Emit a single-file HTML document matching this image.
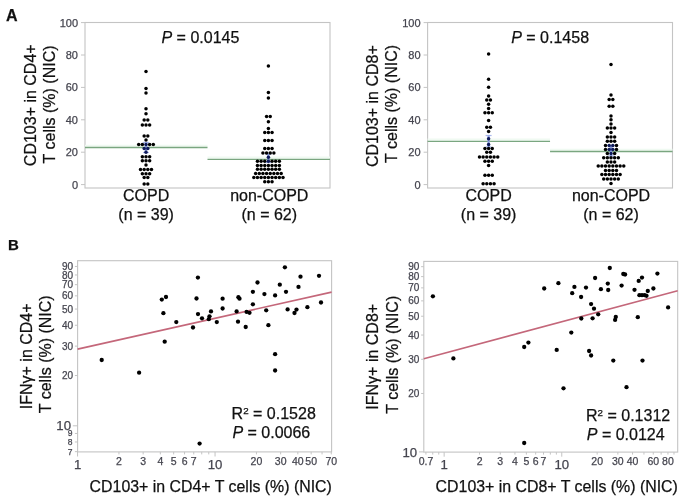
<!DOCTYPE html>
<html><head><meta charset="utf-8"><style>
html,body{margin:0;padding:0;background:#fff;}
svg{display:block;font-family:"Liberation Sans", sans-serif;will-change:transform;}
</style></head><body>
<svg width="685" height="503" viewBox="0 0 685 503">
<rect width="685" height="503" fill="#fff"/>
<text x="6.00" y="20.60" font-size="16" text-anchor="start" fill="#111" stroke="#111" stroke-width="0.25" font-weight="bold">A</text>
<text x="8.00" y="250.40" font-size="15" text-anchor="start" fill="#111" stroke="#111" stroke-width="0.25" font-weight="bold">B</text>
<rect x="85.00" y="22.50" width="245.00" height="165.50" fill="none" stroke="#c4c4c4" stroke-width="1.1"/>
<line x1="81.00" y1="184.60" x2="85.00" y2="184.60" stroke="#c4c4c4" stroke-width="1"/>
<text x="78.00" y="188.50" font-size="11" text-anchor="end" fill="#45454f" stroke="#45454f" stroke-width="0.25" >0</text>
<line x1="81.00" y1="152.20" x2="85.00" y2="152.20" stroke="#c4c4c4" stroke-width="1"/>
<text x="78.00" y="156.10" font-size="11" text-anchor="end" fill="#45454f" stroke="#45454f" stroke-width="0.25" >20</text>
<line x1="81.00" y1="119.80" x2="85.00" y2="119.80" stroke="#c4c4c4" stroke-width="1"/>
<text x="78.00" y="123.70" font-size="11" text-anchor="end" fill="#45454f" stroke="#45454f" stroke-width="0.25" >40</text>
<line x1="81.00" y1="87.40" x2="85.00" y2="87.40" stroke="#c4c4c4" stroke-width="1"/>
<text x="78.00" y="91.30" font-size="11" text-anchor="end" fill="#45454f" stroke="#45454f" stroke-width="0.25" >60</text>
<line x1="81.00" y1="55.00" x2="85.00" y2="55.00" stroke="#c4c4c4" stroke-width="1"/>
<text x="78.00" y="58.90" font-size="11" text-anchor="end" fill="#45454f" stroke="#45454f" stroke-width="0.25" >80</text>
<line x1="81.00" y1="22.60" x2="85.00" y2="22.60" stroke="#c4c4c4" stroke-width="1"/>
<text x="78.00" y="26.50" font-size="11" text-anchor="end" fill="#45454f" stroke="#45454f" stroke-width="0.25" >100</text>
<text transform="translate(35.5,105.25) rotate(-90)" font-size="16" text-anchor="middle" fill="#111" stroke="#111" stroke-width="0.25">CD103+ in CD4+</text>
<text transform="translate(54.6,104.45) rotate(-90)" font-size="16" text-anchor="middle" fill="#111" stroke="#111" stroke-width="0.25">T cells (%) (NIC)</text>
<line x1="85.00" y1="145.70" x2="207.50" y2="145.70" stroke="#f0faf2" stroke-width="2"/>
<line x1="207.50" y1="157.60" x2="330.00" y2="157.60" stroke="#f0faf2" stroke-width="2"/>
<line x1="85.00" y1="147.50" x2="207.50" y2="147.50" stroke="#7aa680" stroke-width="1.3"/>
<line x1="207.50" y1="159.40" x2="330.00" y2="159.40" stroke="#7aa680" stroke-width="1.3"/>
<line x1="143.00" y1="142.50" x2="149.00" y2="142.50" stroke="#a9b8ec" stroke-width="1.2"/>
<line x1="143.00" y1="152.50" x2="149.00" y2="152.50" stroke="#a9b8ec" stroke-width="1.2"/>
<line x1="146.00" y1="142.50" x2="146.00" y2="152.50" stroke="#8d9fe2" stroke-width="2.2"/>
<circle cx="146.00" cy="71.40" r="1.75" fill="#000"/>
<circle cx="146.00" cy="88.60" r="1.75" fill="#000"/>
<circle cx="146.00" cy="92.90" r="1.75" fill="#000"/>
<circle cx="146.00" cy="108.80" r="1.75" fill="#000"/>
<circle cx="146.00" cy="113.70" r="1.75" fill="#000"/>
<circle cx="144.18" cy="119.90" r="1.75" fill="#000"/>
<circle cx="147.82" cy="119.90" r="1.75" fill="#000"/>
<circle cx="142.35" cy="125.10" r="1.75" fill="#000"/>
<circle cx="146.00" cy="125.10" r="1.75" fill="#000"/>
<circle cx="149.65" cy="125.10" r="1.75" fill="#000"/>
<circle cx="144.18" cy="136.00" r="1.75" fill="#000"/>
<circle cx="147.82" cy="136.00" r="1.75" fill="#000"/>
<circle cx="146.00" cy="140.10" r="1.75" fill="#000"/>
<circle cx="138.70" cy="144.50" r="1.75" fill="#000"/>
<circle cx="142.35" cy="144.50" r="1.75" fill="#000"/>
<circle cx="146.00" cy="144.50" r="1.75" fill="#0f1a5a"/>
<circle cx="149.65" cy="144.50" r="1.75" fill="#000"/>
<circle cx="153.30" cy="144.50" r="1.75" fill="#000"/>
<circle cx="144.18" cy="148.60" r="1.75" fill="#0f1a5a"/>
<circle cx="147.82" cy="148.60" r="1.75" fill="#0f1a5a"/>
<circle cx="146.00" cy="152.30" r="1.75" fill="#0f1a5a"/>
<circle cx="142.35" cy="156.70" r="1.75" fill="#000"/>
<circle cx="146.00" cy="156.70" r="1.75" fill="#000"/>
<circle cx="149.65" cy="156.70" r="1.75" fill="#000"/>
<circle cx="142.35" cy="160.70" r="1.75" fill="#000"/>
<circle cx="146.00" cy="160.70" r="1.75" fill="#000"/>
<circle cx="149.65" cy="160.70" r="1.75" fill="#000"/>
<circle cx="146.00" cy="165.00" r="1.75" fill="#000"/>
<circle cx="140.53" cy="169.50" r="1.75" fill="#000"/>
<circle cx="144.18" cy="169.50" r="1.75" fill="#000"/>
<circle cx="147.82" cy="169.50" r="1.75" fill="#000"/>
<circle cx="151.47" cy="169.50" r="1.75" fill="#000"/>
<circle cx="142.35" cy="173.80" r="1.75" fill="#000"/>
<circle cx="146.00" cy="173.80" r="1.75" fill="#000"/>
<circle cx="149.65" cy="173.80" r="1.75" fill="#000"/>
<circle cx="144.18" cy="177.60" r="1.75" fill="#000"/>
<circle cx="147.82" cy="177.60" r="1.75" fill="#000"/>
<circle cx="144.18" cy="184.10" r="1.75" fill="#000"/>
<circle cx="147.82" cy="184.10" r="1.75" fill="#000"/>
<line x1="265.40" y1="154.00" x2="271.40" y2="154.00" stroke="#a9b8ec" stroke-width="1.2"/>
<line x1="265.40" y1="162.50" x2="271.40" y2="162.50" stroke="#a9b8ec" stroke-width="1.2"/>
<line x1="268.40" y1="154.00" x2="268.40" y2="162.50" stroke="#8d9fe2" stroke-width="2.2"/>
<circle cx="268.40" cy="65.90" r="1.75" fill="#000"/>
<circle cx="268.40" cy="92.60" r="1.75" fill="#000"/>
<circle cx="268.40" cy="97.90" r="1.75" fill="#000"/>
<circle cx="266.57" cy="116.50" r="1.75" fill="#000"/>
<circle cx="270.22" cy="116.50" r="1.75" fill="#000"/>
<circle cx="268.40" cy="121.80" r="1.75" fill="#000"/>
<circle cx="268.40" cy="128.40" r="1.75" fill="#000"/>
<circle cx="264.75" cy="132.60" r="1.75" fill="#000"/>
<circle cx="268.40" cy="132.60" r="1.75" fill="#000"/>
<circle cx="272.05" cy="132.60" r="1.75" fill="#000"/>
<circle cx="264.75" cy="140.40" r="1.75" fill="#000"/>
<circle cx="268.40" cy="140.40" r="1.75" fill="#000"/>
<circle cx="272.05" cy="140.40" r="1.75" fill="#000"/>
<circle cx="264.75" cy="148.60" r="1.75" fill="#000"/>
<circle cx="268.40" cy="148.60" r="1.75" fill="#000"/>
<circle cx="272.05" cy="148.60" r="1.75" fill="#000"/>
<circle cx="262.92" cy="152.90" r="1.75" fill="#000"/>
<circle cx="266.57" cy="152.90" r="1.75" fill="#000"/>
<circle cx="270.22" cy="152.90" r="1.75" fill="#000"/>
<circle cx="273.88" cy="152.90" r="1.75" fill="#000"/>
<circle cx="268.40" cy="157.20" r="1.75" fill="#0f1a5a"/>
<circle cx="257.45" cy="161.30" r="1.75" fill="#000"/>
<circle cx="261.10" cy="161.30" r="1.75" fill="#000"/>
<circle cx="264.75" cy="161.30" r="1.75" fill="#000"/>
<circle cx="268.40" cy="161.30" r="1.75" fill="#0f1a5a"/>
<circle cx="272.05" cy="161.30" r="1.75" fill="#000"/>
<circle cx="275.70" cy="161.30" r="1.75" fill="#000"/>
<circle cx="279.35" cy="161.30" r="1.75" fill="#000"/>
<circle cx="257.45" cy="165.40" r="1.75" fill="#000"/>
<circle cx="261.10" cy="165.40" r="1.75" fill="#000"/>
<circle cx="264.75" cy="165.40" r="1.75" fill="#000"/>
<circle cx="268.40" cy="165.40" r="1.75" fill="#000"/>
<circle cx="272.05" cy="165.40" r="1.75" fill="#000"/>
<circle cx="275.70" cy="165.40" r="1.75" fill="#000"/>
<circle cx="279.35" cy="165.40" r="1.75" fill="#000"/>
<circle cx="257.45" cy="169.30" r="1.75" fill="#000"/>
<circle cx="261.10" cy="169.30" r="1.75" fill="#000"/>
<circle cx="264.75" cy="169.30" r="1.75" fill="#000"/>
<circle cx="268.40" cy="169.30" r="1.75" fill="#000"/>
<circle cx="272.05" cy="169.30" r="1.75" fill="#000"/>
<circle cx="275.70" cy="169.30" r="1.75" fill="#000"/>
<circle cx="279.35" cy="169.30" r="1.75" fill="#000"/>
<circle cx="255.62" cy="173.40" r="1.75" fill="#000"/>
<circle cx="259.27" cy="173.40" r="1.75" fill="#000"/>
<circle cx="262.92" cy="173.40" r="1.75" fill="#000"/>
<circle cx="266.57" cy="173.40" r="1.75" fill="#000"/>
<circle cx="270.22" cy="173.40" r="1.75" fill="#000"/>
<circle cx="273.88" cy="173.40" r="1.75" fill="#000"/>
<circle cx="277.52" cy="173.40" r="1.75" fill="#000"/>
<circle cx="281.17" cy="173.40" r="1.75" fill="#000"/>
<circle cx="253.80" cy="177.60" r="1.75" fill="#000"/>
<circle cx="257.45" cy="177.60" r="1.75" fill="#000"/>
<circle cx="261.10" cy="177.60" r="1.75" fill="#000"/>
<circle cx="264.75" cy="177.60" r="1.75" fill="#000"/>
<circle cx="268.40" cy="177.60" r="1.75" fill="#000"/>
<circle cx="272.05" cy="177.60" r="1.75" fill="#000"/>
<circle cx="275.70" cy="177.60" r="1.75" fill="#000"/>
<circle cx="279.35" cy="177.60" r="1.75" fill="#000"/>
<circle cx="283.00" cy="177.60" r="1.75" fill="#000"/>
<circle cx="264.75" cy="181.80" r="1.75" fill="#000"/>
<circle cx="268.40" cy="181.80" r="1.75" fill="#000"/>
<circle cx="272.05" cy="181.80" r="1.75" fill="#000"/>
<text x="161.50" y="43.00" font-size="16" text-anchor="start" fill="#111" stroke="#111" stroke-width="0.25" ><tspan font-style="italic">P</tspan> = 0.0145</text>
<text x="146.10" y="200.60" font-size="16" text-anchor="middle" fill="#111" stroke="#111" stroke-width="0.25" >COPD</text>
<text x="146.10" y="220.20" font-size="16" text-anchor="middle" fill="#111" stroke="#111" stroke-width="0.25" >(n = 39)</text>
<text x="269.30" y="200.60" font-size="16" text-anchor="middle" fill="#111" stroke="#111" stroke-width="0.25" >non-COPD</text>
<text x="269.30" y="220.20" font-size="16" text-anchor="middle" fill="#111" stroke="#111" stroke-width="0.25" >(n = 62)</text>
<rect x="427.60" y="22.50" width="244.90" height="165.50" fill="none" stroke="#c4c4c4" stroke-width="1.1"/>
<line x1="423.60" y1="184.60" x2="427.60" y2="184.60" stroke="#c4c4c4" stroke-width="1"/>
<text x="420.60" y="188.50" font-size="11" text-anchor="end" fill="#45454f" stroke="#45454f" stroke-width="0.25" >0</text>
<line x1="423.60" y1="152.20" x2="427.60" y2="152.20" stroke="#c4c4c4" stroke-width="1"/>
<text x="420.60" y="156.10" font-size="11" text-anchor="end" fill="#45454f" stroke="#45454f" stroke-width="0.25" >20</text>
<line x1="423.60" y1="119.80" x2="427.60" y2="119.80" stroke="#c4c4c4" stroke-width="1"/>
<text x="420.60" y="123.70" font-size="11" text-anchor="end" fill="#45454f" stroke="#45454f" stroke-width="0.25" >40</text>
<line x1="423.60" y1="87.40" x2="427.60" y2="87.40" stroke="#c4c4c4" stroke-width="1"/>
<text x="420.60" y="91.30" font-size="11" text-anchor="end" fill="#45454f" stroke="#45454f" stroke-width="0.25" >60</text>
<line x1="423.60" y1="55.00" x2="427.60" y2="55.00" stroke="#c4c4c4" stroke-width="1"/>
<text x="420.60" y="58.90" font-size="11" text-anchor="end" fill="#45454f" stroke="#45454f" stroke-width="0.25" >80</text>
<line x1="423.60" y1="22.60" x2="427.60" y2="22.60" stroke="#c4c4c4" stroke-width="1"/>
<text x="420.60" y="26.50" font-size="11" text-anchor="end" fill="#45454f" stroke="#45454f" stroke-width="0.25" >100</text>
<text transform="translate(377.8,106.15) rotate(-90)" font-size="16" text-anchor="middle" fill="#111" stroke="#111" stroke-width="0.25">CD103+ in CD8+</text>
<text transform="translate(397.2,103.95) rotate(-90)" font-size="16" text-anchor="middle" fill="#111" stroke="#111" stroke-width="0.25">T cells (%) (NIC)</text>
<line x1="427.60" y1="139.60" x2="550.05" y2="139.60" stroke="#f0faf2" stroke-width="2"/>
<line x1="550.05" y1="149.70" x2="672.50" y2="149.70" stroke="#f0faf2" stroke-width="2"/>
<line x1="427.60" y1="141.40" x2="550.05" y2="141.40" stroke="#7aa680" stroke-width="1.3"/>
<line x1="550.05" y1="151.50" x2="672.50" y2="151.50" stroke="#7aa680" stroke-width="1.3"/>
<line x1="485.60" y1="135.50" x2="491.60" y2="135.50" stroke="#a9b8ec" stroke-width="1.2"/>
<line x1="485.60" y1="147.00" x2="491.60" y2="147.00" stroke="#a9b8ec" stroke-width="1.2"/>
<line x1="488.60" y1="135.50" x2="488.60" y2="147.00" stroke="#8d9fe2" stroke-width="2.2"/>
<circle cx="488.60" cy="54.10" r="1.75" fill="#000"/>
<circle cx="488.60" cy="79.20" r="1.75" fill="#000"/>
<circle cx="488.60" cy="87.20" r="1.75" fill="#000"/>
<circle cx="488.60" cy="96.00" r="1.75" fill="#000"/>
<circle cx="486.78" cy="99.90" r="1.75" fill="#000"/>
<circle cx="490.43" cy="99.90" r="1.75" fill="#000"/>
<circle cx="488.60" cy="104.20" r="1.75" fill="#000"/>
<circle cx="488.60" cy="108.40" r="1.75" fill="#000"/>
<circle cx="484.95" cy="112.70" r="1.75" fill="#000"/>
<circle cx="488.60" cy="112.70" r="1.75" fill="#000"/>
<circle cx="492.25" cy="112.70" r="1.75" fill="#000"/>
<circle cx="488.60" cy="120.60" r="1.75" fill="#000"/>
<circle cx="486.78" cy="127.20" r="1.75" fill="#000"/>
<circle cx="490.43" cy="127.20" r="1.75" fill="#000"/>
<circle cx="488.60" cy="131.40" r="1.75" fill="#000"/>
<circle cx="488.60" cy="138.80" r="1.75" fill="#0f1a5a"/>
<circle cx="488.60" cy="144.50" r="1.75" fill="#0f1a5a"/>
<circle cx="484.95" cy="148.50" r="1.75" fill="#000"/>
<circle cx="488.60" cy="148.50" r="1.75" fill="#000"/>
<circle cx="492.25" cy="148.50" r="1.75" fill="#000"/>
<circle cx="486.78" cy="152.20" r="1.75" fill="#000"/>
<circle cx="490.43" cy="152.20" r="1.75" fill="#000"/>
<circle cx="479.48" cy="157.00" r="1.75" fill="#000"/>
<circle cx="483.12" cy="157.00" r="1.75" fill="#000"/>
<circle cx="486.78" cy="157.00" r="1.75" fill="#000"/>
<circle cx="490.43" cy="157.00" r="1.75" fill="#000"/>
<circle cx="494.08" cy="157.00" r="1.75" fill="#000"/>
<circle cx="497.73" cy="157.00" r="1.75" fill="#000"/>
<circle cx="484.95" cy="161.20" r="1.75" fill="#000"/>
<circle cx="488.60" cy="161.20" r="1.75" fill="#000"/>
<circle cx="492.25" cy="161.20" r="1.75" fill="#000"/>
<circle cx="488.60" cy="165.60" r="1.75" fill="#000"/>
<circle cx="484.95" cy="175.30" r="1.75" fill="#000"/>
<circle cx="488.60" cy="175.30" r="1.75" fill="#000"/>
<circle cx="492.25" cy="175.30" r="1.75" fill="#000"/>
<circle cx="483.12" cy="183.80" r="1.75" fill="#000"/>
<circle cx="486.78" cy="183.80" r="1.75" fill="#000"/>
<circle cx="490.43" cy="183.80" r="1.75" fill="#000"/>
<circle cx="494.08" cy="183.80" r="1.75" fill="#000"/>
<line x1="608.00" y1="146.00" x2="614.00" y2="146.00" stroke="#a9b8ec" stroke-width="1.2"/>
<line x1="608.00" y1="156.00" x2="614.00" y2="156.00" stroke="#a9b8ec" stroke-width="1.2"/>
<line x1="611.00" y1="146.00" x2="611.00" y2="156.00" stroke="#8d9fe2" stroke-width="2.2"/>
<circle cx="611.00" cy="64.50" r="1.75" fill="#000"/>
<circle cx="611.00" cy="95.10" r="1.75" fill="#000"/>
<circle cx="609.17" cy="99.60" r="1.75" fill="#000"/>
<circle cx="612.83" cy="99.60" r="1.75" fill="#000"/>
<circle cx="609.17" cy="106.30" r="1.75" fill="#000"/>
<circle cx="612.83" cy="106.30" r="1.75" fill="#000"/>
<circle cx="611.00" cy="116.00" r="1.75" fill="#000"/>
<circle cx="611.00" cy="119.80" r="1.75" fill="#000"/>
<circle cx="611.00" cy="123.90" r="1.75" fill="#000"/>
<circle cx="607.35" cy="128.10" r="1.75" fill="#000"/>
<circle cx="611.00" cy="128.10" r="1.75" fill="#000"/>
<circle cx="614.65" cy="128.10" r="1.75" fill="#000"/>
<circle cx="611.00" cy="132.50" r="1.75" fill="#000"/>
<circle cx="607.35" cy="137.10" r="1.75" fill="#000"/>
<circle cx="611.00" cy="137.10" r="1.75" fill="#000"/>
<circle cx="614.65" cy="137.10" r="1.75" fill="#000"/>
<circle cx="607.35" cy="141.30" r="1.75" fill="#000"/>
<circle cx="611.00" cy="141.30" r="1.75" fill="#000"/>
<circle cx="614.65" cy="141.30" r="1.75" fill="#000"/>
<circle cx="605.52" cy="145.50" r="1.75" fill="#000"/>
<circle cx="609.17" cy="145.50" r="1.75" fill="#0f1a5a"/>
<circle cx="612.83" cy="145.50" r="1.75" fill="#0f1a5a"/>
<circle cx="616.48" cy="145.50" r="1.75" fill="#000"/>
<circle cx="605.52" cy="149.60" r="1.75" fill="#000"/>
<circle cx="609.17" cy="149.60" r="1.75" fill="#0f1a5a"/>
<circle cx="612.83" cy="149.60" r="1.75" fill="#0f1a5a"/>
<circle cx="616.48" cy="149.60" r="1.75" fill="#000"/>
<circle cx="607.35" cy="153.50" r="1.75" fill="#000"/>
<circle cx="611.00" cy="153.50" r="1.75" fill="#0f1a5a"/>
<circle cx="614.65" cy="153.50" r="1.75" fill="#000"/>
<circle cx="603.70" cy="157.70" r="1.75" fill="#000"/>
<circle cx="607.35" cy="157.70" r="1.75" fill="#000"/>
<circle cx="611.00" cy="157.70" r="1.75" fill="#000"/>
<circle cx="614.65" cy="157.70" r="1.75" fill="#000"/>
<circle cx="618.30" cy="157.70" r="1.75" fill="#000"/>
<circle cx="607.35" cy="161.90" r="1.75" fill="#000"/>
<circle cx="611.00" cy="161.90" r="1.75" fill="#000"/>
<circle cx="614.65" cy="161.90" r="1.75" fill="#000"/>
<circle cx="598.23" cy="166.00" r="1.75" fill="#000"/>
<circle cx="601.88" cy="166.00" r="1.75" fill="#000"/>
<circle cx="605.52" cy="166.00" r="1.75" fill="#000"/>
<circle cx="609.17" cy="166.00" r="1.75" fill="#000"/>
<circle cx="612.83" cy="166.00" r="1.75" fill="#000"/>
<circle cx="616.48" cy="166.00" r="1.75" fill="#000"/>
<circle cx="620.12" cy="166.00" r="1.75" fill="#000"/>
<circle cx="623.77" cy="166.00" r="1.75" fill="#000"/>
<circle cx="605.52" cy="170.40" r="1.75" fill="#000"/>
<circle cx="609.17" cy="170.40" r="1.75" fill="#000"/>
<circle cx="612.83" cy="170.40" r="1.75" fill="#000"/>
<circle cx="616.48" cy="170.40" r="1.75" fill="#000"/>
<circle cx="601.88" cy="174.60" r="1.75" fill="#000"/>
<circle cx="605.52" cy="174.60" r="1.75" fill="#000"/>
<circle cx="609.17" cy="174.60" r="1.75" fill="#000"/>
<circle cx="612.83" cy="174.60" r="1.75" fill="#000"/>
<circle cx="616.48" cy="174.60" r="1.75" fill="#000"/>
<circle cx="620.12" cy="174.60" r="1.75" fill="#000"/>
<circle cx="603.70" cy="179.10" r="1.75" fill="#000"/>
<circle cx="607.35" cy="179.10" r="1.75" fill="#000"/>
<circle cx="611.00" cy="179.10" r="1.75" fill="#000"/>
<circle cx="614.65" cy="179.10" r="1.75" fill="#000"/>
<circle cx="618.30" cy="179.10" r="1.75" fill="#000"/>
<circle cx="611.00" cy="183.60" r="1.75" fill="#000"/>
<text x="511.20" y="43.00" font-size="16" text-anchor="start" fill="#111" stroke="#111" stroke-width="0.25" ><tspan font-style="italic">P</tspan> = 0.1458</text>
<text x="488.60" y="200.60" font-size="16" text-anchor="middle" fill="#111" stroke="#111" stroke-width="0.25" >COPD</text>
<text x="488.60" y="220.20" font-size="16" text-anchor="middle" fill="#111" stroke="#111" stroke-width="0.25" >(n = 39)</text>
<text x="611.00" y="200.60" font-size="16" text-anchor="middle" fill="#111" stroke="#111" stroke-width="0.25" >non-COPD</text>
<text x="611.00" y="220.20" font-size="16" text-anchor="middle" fill="#111" stroke="#111" stroke-width="0.25" >(n = 62)</text>
<rect x="77.60" y="260.70" width="254.00" height="191.20" fill="none" stroke="#c4c4c4" stroke-width="1.1"/>
<line x1="74.90" y1="451.67" x2="77.60" y2="451.67" stroke="#c4c4c4" stroke-width="1"/>
<text x="72.40" y="454.69" font-size="8.5" text-anchor="end" fill="#45454f" stroke="#45454f" stroke-width="0.25" >7</text>
<line x1="74.90" y1="441.98" x2="77.60" y2="441.98" stroke="#c4c4c4" stroke-width="1"/>
<text x="72.40" y="445.00" font-size="8.5" text-anchor="end" fill="#45454f" stroke="#45454f" stroke-width="0.25" >8</text>
<line x1="74.90" y1="433.44" x2="77.60" y2="433.44" stroke="#c4c4c4" stroke-width="1"/>
<text x="72.40" y="436.46" font-size="8.5" text-anchor="end" fill="#45454f" stroke="#45454f" stroke-width="0.25" >9</text>
<line x1="72.80" y1="425.80" x2="77.60" y2="425.80" stroke="#c4c4c4" stroke-width="1"/>
<text x="71.00" y="430.49" font-size="13.2" text-anchor="end" fill="#45454f" stroke="#45454f" stroke-width="0.25" >10</text>
<line x1="74.90" y1="375.53" x2="77.60" y2="375.53" stroke="#c4c4c4" stroke-width="1"/>
<text x="73.20" y="379.08" font-size="10" text-anchor="end" fill="#45454f" stroke="#45454f" stroke-width="0.25" >20</text>
<line x1="74.90" y1="346.12" x2="77.60" y2="346.12" stroke="#c4c4c4" stroke-width="1"/>
<text x="73.20" y="349.67" font-size="10" text-anchor="end" fill="#45454f" stroke="#45454f" stroke-width="0.25" >30</text>
<line x1="74.90" y1="325.26" x2="77.60" y2="325.26" stroke="#c4c4c4" stroke-width="1"/>
<text x="73.20" y="328.81" font-size="10" text-anchor="end" fill="#45454f" stroke="#45454f" stroke-width="0.25" >40</text>
<line x1="74.90" y1="309.07" x2="77.60" y2="309.07" stroke="#c4c4c4" stroke-width="1"/>
<text x="73.20" y="312.62" font-size="10" text-anchor="end" fill="#45454f" stroke="#45454f" stroke-width="0.25" >50</text>
<line x1="74.90" y1="295.85" x2="77.60" y2="295.85" stroke="#c4c4c4" stroke-width="1"/>
<text x="73.20" y="299.40" font-size="10" text-anchor="end" fill="#45454f" stroke="#45454f" stroke-width="0.25" >60</text>
<line x1="74.90" y1="284.67" x2="77.60" y2="284.67" stroke="#c4c4c4" stroke-width="1"/>
<text x="73.20" y="288.22" font-size="10" text-anchor="end" fill="#45454f" stroke="#45454f" stroke-width="0.25" >70</text>
<line x1="74.90" y1="274.98" x2="77.60" y2="274.98" stroke="#c4c4c4" stroke-width="1"/>
<text x="73.20" y="278.53" font-size="10" text-anchor="end" fill="#45454f" stroke="#45454f" stroke-width="0.25" >80</text>
<line x1="74.90" y1="266.44" x2="77.60" y2="266.44" stroke="#c4c4c4" stroke-width="1"/>
<text x="73.20" y="269.99" font-size="10" text-anchor="end" fill="#45454f" stroke="#45454f" stroke-width="0.25" >90</text>
<line x1="77.55" y1="451.90" x2="77.55" y2="456.50" stroke="#c4c4c4" stroke-width="1"/>
<text x="77.55" y="469.10" font-size="13.2" text-anchor="middle" fill="#45454f" stroke="#45454f" stroke-width="0.25" >1</text>
<line x1="118.94" y1="451.90" x2="118.94" y2="454.40" stroke="#c4c4c4" stroke-width="1"/>
<text x="118.94" y="464.70" font-size="10.5" text-anchor="middle" fill="#45454f" stroke="#45454f" stroke-width="0.25" >2</text>
<line x1="143.15" y1="451.90" x2="143.15" y2="454.40" stroke="#c4c4c4" stroke-width="1"/>
<text x="143.15" y="464.70" font-size="10.5" text-anchor="middle" fill="#45454f" stroke="#45454f" stroke-width="0.25" >3</text>
<line x1="160.33" y1="451.90" x2="160.33" y2="454.40" stroke="#c4c4c4" stroke-width="1"/>
<text x="160.33" y="464.70" font-size="10.5" text-anchor="middle" fill="#45454f" stroke="#45454f" stroke-width="0.25" >4</text>
<line x1="173.66" y1="451.90" x2="173.66" y2="454.40" stroke="#c4c4c4" stroke-width="1"/>
<text x="173.66" y="464.70" font-size="10.5" text-anchor="middle" fill="#45454f" stroke="#45454f" stroke-width="0.25" >5</text>
<line x1="184.55" y1="451.90" x2="184.55" y2="454.40" stroke="#c4c4c4" stroke-width="1"/>
<text x="184.55" y="464.70" font-size="10.5" text-anchor="middle" fill="#45454f" stroke="#45454f" stroke-width="0.25" >6</text>
<line x1="193.75" y1="451.90" x2="193.75" y2="454.40" stroke="#c4c4c4" stroke-width="1"/>
<text x="193.75" y="464.70" font-size="10.5" text-anchor="middle" fill="#45454f" stroke="#45454f" stroke-width="0.25" >7</text>
<line x1="201.72" y1="451.90" x2="201.72" y2="454.40" stroke="#c4c4c4" stroke-width="1"/>
<line x1="208.76" y1="451.90" x2="208.76" y2="454.40" stroke="#c4c4c4" stroke-width="1"/>
<line x1="215.05" y1="451.90" x2="215.05" y2="456.50" stroke="#c4c4c4" stroke-width="1"/>
<text x="215.05" y="469.10" font-size="13.2" text-anchor="middle" fill="#45454f" stroke="#45454f" stroke-width="0.25" >10</text>
<line x1="256.44" y1="451.90" x2="256.44" y2="454.40" stroke="#c4c4c4" stroke-width="1"/>
<text x="256.44" y="464.70" font-size="10.5" text-anchor="middle" fill="#45454f" stroke="#45454f" stroke-width="0.25" >20</text>
<line x1="280.65" y1="451.90" x2="280.65" y2="454.40" stroke="#c4c4c4" stroke-width="1"/>
<text x="280.65" y="464.70" font-size="10.5" text-anchor="middle" fill="#45454f" stroke="#45454f" stroke-width="0.25" >30</text>
<line x1="297.83" y1="451.90" x2="297.83" y2="454.40" stroke="#c4c4c4" stroke-width="1"/>
<text x="297.83" y="464.70" font-size="10.5" text-anchor="middle" fill="#45454f" stroke="#45454f" stroke-width="0.25" >40</text>
<line x1="311.16" y1="451.90" x2="311.16" y2="454.40" stroke="#c4c4c4" stroke-width="1"/>
<text x="311.16" y="464.70" font-size="10.5" text-anchor="middle" fill="#45454f" stroke="#45454f" stroke-width="0.25" >50</text>
<line x1="322.05" y1="451.90" x2="322.05" y2="454.40" stroke="#c4c4c4" stroke-width="1"/>
<line x1="331.25" y1="451.90" x2="331.25" y2="454.40" stroke="#c4c4c4" stroke-width="1"/>
<text x="331.25" y="464.70" font-size="10.5" text-anchor="middle" fill="#45454f" stroke="#45454f" stroke-width="0.25" >70</text>
<line x1="77.60" y1="349.10" x2="331.60" y2="292.10" stroke="#c4677a" stroke-width="1.6"/>
<circle cx="101.70" cy="360.00" r="2.15" fill="#000"/>
<circle cx="139.10" cy="372.70" r="2.15" fill="#000"/>
<circle cx="161.80" cy="299.60" r="2.15" fill="#000"/>
<circle cx="166.00" cy="297.00" r="2.15" fill="#000"/>
<circle cx="163.40" cy="313.20" r="2.15" fill="#000"/>
<circle cx="164.70" cy="341.70" r="2.15" fill="#000"/>
<circle cx="176.30" cy="322.10" r="2.15" fill="#000"/>
<circle cx="193.00" cy="327.50" r="2.15" fill="#000"/>
<circle cx="197.90" cy="277.60" r="2.15" fill="#000"/>
<circle cx="196.50" cy="298.50" r="2.15" fill="#000"/>
<circle cx="198.00" cy="314.10" r="2.15" fill="#000"/>
<circle cx="202.00" cy="318.30" r="2.15" fill="#000"/>
<circle cx="199.60" cy="443.60" r="2.15" fill="#000"/>
<circle cx="211.00" cy="311.40" r="2.15" fill="#000"/>
<circle cx="209.50" cy="316.30" r="2.15" fill="#000"/>
<circle cx="208.80" cy="319.20" r="2.15" fill="#000"/>
<circle cx="216.80" cy="322.10" r="2.15" fill="#000"/>
<circle cx="222.60" cy="298.70" r="2.15" fill="#000"/>
<circle cx="222.60" cy="308.50" r="2.15" fill="#000"/>
<circle cx="236.60" cy="311.40" r="2.15" fill="#000"/>
<circle cx="238.40" cy="297.20" r="2.15" fill="#000"/>
<circle cx="239.50" cy="298.70" r="2.15" fill="#000"/>
<circle cx="238.00" cy="321.70" r="2.15" fill="#000"/>
<circle cx="245.70" cy="327.00" r="2.15" fill="#000"/>
<circle cx="246.60" cy="311.90" r="2.15" fill="#000"/>
<circle cx="249.50" cy="312.80" r="2.15" fill="#000"/>
<circle cx="252.90" cy="291.80" r="2.15" fill="#000"/>
<circle cx="252.90" cy="304.30" r="2.15" fill="#000"/>
<circle cx="257.50" cy="282.50" r="2.15" fill="#000"/>
<circle cx="264.40" cy="294.10" r="2.15" fill="#000"/>
<circle cx="266.20" cy="310.30" r="2.15" fill="#000"/>
<circle cx="268.40" cy="325.20" r="2.15" fill="#000"/>
<circle cx="275.10" cy="295.40" r="2.15" fill="#000"/>
<circle cx="275.10" cy="354.20" r="2.15" fill="#000"/>
<circle cx="275.10" cy="370.50" r="2.15" fill="#000"/>
<circle cx="279.80" cy="284.70" r="2.15" fill="#000"/>
<circle cx="284.90" cy="267.30" r="2.15" fill="#000"/>
<circle cx="286.00" cy="291.80" r="2.15" fill="#000"/>
<circle cx="287.60" cy="309.40" r="2.15" fill="#000"/>
<circle cx="294.50" cy="313.00" r="2.15" fill="#000"/>
<circle cx="296.50" cy="309.60" r="2.15" fill="#000"/>
<circle cx="298.50" cy="286.90" r="2.15" fill="#000"/>
<circle cx="300.50" cy="276.70" r="2.15" fill="#000"/>
<circle cx="307.40" cy="307.20" r="2.15" fill="#000"/>
<circle cx="319.00" cy="275.80" r="2.15" fill="#000"/>
<circle cx="321.00" cy="302.50" r="2.15" fill="#000"/>
<text transform="translate(31.7,356.29999999999995) rotate(-90)" font-size="16" text-anchor="middle" fill="#111" stroke="#111" stroke-width="0.25">IFNγ+ in CD4+</text>
<text transform="translate(51.3,354.29999999999995) rotate(-90)" font-size="16" text-anchor="middle" fill="#111" stroke="#111" stroke-width="0.25">T cells (%) (NIC)</text>
<text x="89.60" y="492.00" font-size="15.9" text-anchor="start" fill="#111" stroke="#111" stroke-width="0.25" >CD103+ in CD4+ T cells (%) (NIC)</text>
<text x="231.60" y="419.00" font-size="16" text-anchor="start" fill="#111" stroke="#111" stroke-width="0.25" >R<tspan font-size="9.8" dy="-4.6">2</tspan><tspan dy="4.6"> = 0.1528</tspan></text>
<text x="232.40" y="437.90" font-size="16" text-anchor="start" fill="#111" stroke="#111" stroke-width="0.25" ><tspan font-style="italic">P</tspan> = 0.0066</text>
<rect x="423.80" y="261.40" width="253.90" height="190.70" fill="none" stroke="#c4c4c4" stroke-width="1.1"/>
<line x1="419.00" y1="451.90" x2="423.80" y2="451.90" stroke="#c4c4c4" stroke-width="1"/>
<text x="417.20" y="456.59" font-size="13.2" text-anchor="end" fill="#45454f" stroke="#45454f" stroke-width="0.25" >10</text>
<line x1="421.10" y1="393.47" x2="423.80" y2="393.47" stroke="#c4c4c4" stroke-width="1"/>
<text x="419.40" y="397.02" font-size="10" text-anchor="end" fill="#45454f" stroke="#45454f" stroke-width="0.25" >20</text>
<line x1="421.10" y1="359.29" x2="423.80" y2="359.29" stroke="#c4c4c4" stroke-width="1"/>
<text x="419.40" y="362.84" font-size="10" text-anchor="end" fill="#45454f" stroke="#45454f" stroke-width="0.25" >30</text>
<line x1="421.10" y1="335.04" x2="423.80" y2="335.04" stroke="#c4c4c4" stroke-width="1"/>
<text x="419.40" y="338.59" font-size="10" text-anchor="end" fill="#45454f" stroke="#45454f" stroke-width="0.25" >40</text>
<line x1="421.10" y1="316.23" x2="423.80" y2="316.23" stroke="#c4c4c4" stroke-width="1"/>
<text x="419.40" y="319.78" font-size="10" text-anchor="end" fill="#45454f" stroke="#45454f" stroke-width="0.25" >50</text>
<line x1="421.10" y1="300.86" x2="423.80" y2="300.86" stroke="#c4c4c4" stroke-width="1"/>
<text x="419.40" y="304.41" font-size="10" text-anchor="end" fill="#45454f" stroke="#45454f" stroke-width="0.25" >60</text>
<line x1="421.10" y1="287.87" x2="423.80" y2="287.87" stroke="#c4c4c4" stroke-width="1"/>
<text x="419.40" y="291.42" font-size="10" text-anchor="end" fill="#45454f" stroke="#45454f" stroke-width="0.25" >70</text>
<line x1="421.10" y1="276.61" x2="423.80" y2="276.61" stroke="#c4c4c4" stroke-width="1"/>
<text x="419.40" y="280.16" font-size="10" text-anchor="end" fill="#45454f" stroke="#45454f" stroke-width="0.25" >80</text>
<line x1="421.10" y1="266.68" x2="423.80" y2="266.68" stroke="#c4c4c4" stroke-width="1"/>
<text x="419.40" y="270.23" font-size="10" text-anchor="end" fill="#45454f" stroke="#45454f" stroke-width="0.25" >90</text>
<line x1="425.93" y1="452.10" x2="425.93" y2="454.60" stroke="#c4c4c4" stroke-width="1"/>
<text x="425.93" y="464.90" font-size="10.5" text-anchor="middle" fill="#45454f" stroke="#45454f" stroke-width="0.25" >0.7</text>
<line x1="432.75" y1="452.10" x2="432.75" y2="454.60" stroke="#c4c4c4" stroke-width="1"/>
<line x1="438.77" y1="452.10" x2="438.77" y2="454.60" stroke="#c4c4c4" stroke-width="1"/>
<line x1="444.15" y1="452.10" x2="444.15" y2="456.70" stroke="#c4c4c4" stroke-width="1"/>
<text x="444.15" y="469.30" font-size="13.2" text-anchor="middle" fill="#45454f" stroke="#45454f" stroke-width="0.25" >1</text>
<line x1="479.55" y1="452.10" x2="479.55" y2="454.60" stroke="#c4c4c4" stroke-width="1"/>
<text x="479.55" y="464.90" font-size="10.5" text-anchor="middle" fill="#45454f" stroke="#45454f" stroke-width="0.25" >2</text>
<line x1="500.26" y1="452.10" x2="500.26" y2="454.60" stroke="#c4c4c4" stroke-width="1"/>
<text x="500.26" y="464.90" font-size="10.5" text-anchor="middle" fill="#45454f" stroke="#45454f" stroke-width="0.25" >3</text>
<line x1="514.95" y1="452.10" x2="514.95" y2="454.60" stroke="#c4c4c4" stroke-width="1"/>
<text x="514.95" y="464.90" font-size="10.5" text-anchor="middle" fill="#45454f" stroke="#45454f" stroke-width="0.25" >4</text>
<line x1="526.35" y1="452.10" x2="526.35" y2="454.60" stroke="#c4c4c4" stroke-width="1"/>
<text x="526.35" y="464.90" font-size="10.5" text-anchor="middle" fill="#45454f" stroke="#45454f" stroke-width="0.25" >5</text>
<line x1="535.66" y1="452.10" x2="535.66" y2="454.60" stroke="#c4c4c4" stroke-width="1"/>
<text x="535.66" y="464.90" font-size="10.5" text-anchor="middle" fill="#45454f" stroke="#45454f" stroke-width="0.25" >6</text>
<line x1="543.53" y1="452.10" x2="543.53" y2="454.60" stroke="#c4c4c4" stroke-width="1"/>
<text x="543.53" y="464.90" font-size="10.5" text-anchor="middle" fill="#45454f" stroke="#45454f" stroke-width="0.25" >7</text>
<line x1="550.35" y1="452.10" x2="550.35" y2="454.60" stroke="#c4c4c4" stroke-width="1"/>
<line x1="556.37" y1="452.10" x2="556.37" y2="454.60" stroke="#c4c4c4" stroke-width="1"/>
<line x1="561.75" y1="452.10" x2="561.75" y2="456.70" stroke="#c4c4c4" stroke-width="1"/>
<text x="561.75" y="469.30" font-size="13.2" text-anchor="middle" fill="#45454f" stroke="#45454f" stroke-width="0.25" >10</text>
<line x1="597.15" y1="452.10" x2="597.15" y2="454.60" stroke="#c4c4c4" stroke-width="1"/>
<text x="597.15" y="464.90" font-size="10.5" text-anchor="middle" fill="#45454f" stroke="#45454f" stroke-width="0.25" >20</text>
<line x1="617.86" y1="452.10" x2="617.86" y2="454.60" stroke="#c4c4c4" stroke-width="1"/>
<text x="617.86" y="464.90" font-size="10.5" text-anchor="middle" fill="#45454f" stroke="#45454f" stroke-width="0.25" >30</text>
<line x1="632.55" y1="452.10" x2="632.55" y2="454.60" stroke="#c4c4c4" stroke-width="1"/>
<text x="632.55" y="464.90" font-size="10.5" text-anchor="middle" fill="#45454f" stroke="#45454f" stroke-width="0.25" >40</text>
<line x1="643.95" y1="452.10" x2="643.95" y2="454.60" stroke="#c4c4c4" stroke-width="1"/>
<line x1="653.26" y1="452.10" x2="653.26" y2="454.60" stroke="#c4c4c4" stroke-width="1"/>
<text x="653.26" y="464.90" font-size="10.5" text-anchor="middle" fill="#45454f" stroke="#45454f" stroke-width="0.25" >60</text>
<line x1="661.13" y1="452.10" x2="661.13" y2="454.60" stroke="#c4c4c4" stroke-width="1"/>
<line x1="667.95" y1="452.10" x2="667.95" y2="454.60" stroke="#c4c4c4" stroke-width="1"/>
<text x="667.95" y="464.90" font-size="10.5" text-anchor="middle" fill="#45454f" stroke="#45454f" stroke-width="0.25" >80</text>
<line x1="673.97" y1="452.10" x2="673.97" y2="454.60" stroke="#c4c4c4" stroke-width="1"/>
<line x1="423.80" y1="358.70" x2="677.70" y2="290.70" stroke="#c4677a" stroke-width="1.6"/>
<circle cx="432.90" cy="296.30" r="2.15" fill="#000"/>
<circle cx="453.40" cy="358.40" r="2.15" fill="#000"/>
<circle cx="524.20" cy="347.00" r="2.15" fill="#000"/>
<circle cx="528.40" cy="342.60" r="2.15" fill="#000"/>
<circle cx="524.20" cy="443.00" r="2.15" fill="#000"/>
<circle cx="544.20" cy="288.50" r="2.15" fill="#000"/>
<circle cx="556.70" cy="349.90" r="2.15" fill="#000"/>
<circle cx="558.40" cy="283.20" r="2.15" fill="#000"/>
<circle cx="563.50" cy="388.30" r="2.15" fill="#000"/>
<circle cx="571.30" cy="332.60" r="2.15" fill="#000"/>
<circle cx="572.20" cy="293.20" r="2.15" fill="#000"/>
<circle cx="574.40" cy="286.90" r="2.15" fill="#000"/>
<circle cx="581.10" cy="297.00" r="2.15" fill="#000"/>
<circle cx="581.30" cy="318.50" r="2.15" fill="#000"/>
<circle cx="586.00" cy="287.60" r="2.15" fill="#000"/>
<circle cx="589.10" cy="351.00" r="2.15" fill="#000"/>
<circle cx="591.10" cy="355.50" r="2.15" fill="#000"/>
<circle cx="591.10" cy="304.10" r="2.15" fill="#000"/>
<circle cx="594.00" cy="308.70" r="2.15" fill="#000"/>
<circle cx="592.60" cy="318.30" r="2.15" fill="#000"/>
<circle cx="598.20" cy="314.30" r="2.15" fill="#000"/>
<circle cx="595.10" cy="278.00" r="2.15" fill="#000"/>
<circle cx="600.90" cy="289.20" r="2.15" fill="#000"/>
<circle cx="607.80" cy="283.60" r="2.15" fill="#000"/>
<circle cx="608.20" cy="290.00" r="2.15" fill="#000"/>
<circle cx="609.80" cy="268.00" r="2.15" fill="#000"/>
<circle cx="613.30" cy="360.60" r="2.15" fill="#000"/>
<circle cx="615.80" cy="317.00" r="2.15" fill="#000"/>
<circle cx="615.10" cy="319.90" r="2.15" fill="#000"/>
<circle cx="621.60" cy="285.60" r="2.15" fill="#000"/>
<circle cx="623.30" cy="274.00" r="2.15" fill="#000"/>
<circle cx="625.10" cy="274.50" r="2.15" fill="#000"/>
<circle cx="626.50" cy="387.20" r="2.15" fill="#000"/>
<circle cx="634.50" cy="289.80" r="2.15" fill="#000"/>
<circle cx="637.80" cy="317.20" r="2.15" fill="#000"/>
<circle cx="638.70" cy="280.90" r="2.15" fill="#000"/>
<circle cx="642.00" cy="277.60" r="2.15" fill="#000"/>
<circle cx="642.50" cy="360.60" r="2.15" fill="#000"/>
<circle cx="639.40" cy="295.20" r="2.15" fill="#000"/>
<circle cx="642.00" cy="295.20" r="2.15" fill="#000"/>
<circle cx="644.70" cy="295.20" r="2.15" fill="#000"/>
<circle cx="646.50" cy="295.80" r="2.15" fill="#000"/>
<circle cx="647.80" cy="291.00" r="2.15" fill="#000"/>
<circle cx="653.40" cy="288.50" r="2.15" fill="#000"/>
<circle cx="657.40" cy="273.60" r="2.15" fill="#000"/>
<circle cx="668.10" cy="307.40" r="2.15" fill="#000"/>
<text transform="translate(377.9,356.75) rotate(-90)" font-size="16" text-anchor="middle" fill="#111" stroke="#111" stroke-width="0.25">IFNγ+ in CD8+</text>
<text transform="translate(397.6,354.75) rotate(-90)" font-size="16" text-anchor="middle" fill="#111" stroke="#111" stroke-width="0.25">T cells (%) (NIC)</text>
<text x="435.60" y="492.00" font-size="15.9" text-anchor="start" fill="#111" stroke="#111" stroke-width="0.25" >CD103+ in CD8+ T cells (%) (NIC)</text>
<text x="586.00" y="420.80" font-size="16" text-anchor="start" fill="#111" stroke="#111" stroke-width="0.25" >R<tspan font-size="9.8" dy="-4.6">2</tspan><tspan dy="4.6"> = 0.1312</tspan></text>
<text x="586.80" y="439.70" font-size="16" text-anchor="start" fill="#111" stroke="#111" stroke-width="0.25" ><tspan font-style="italic">P</tspan> = 0.0124</text>
</svg>
</body></html>
